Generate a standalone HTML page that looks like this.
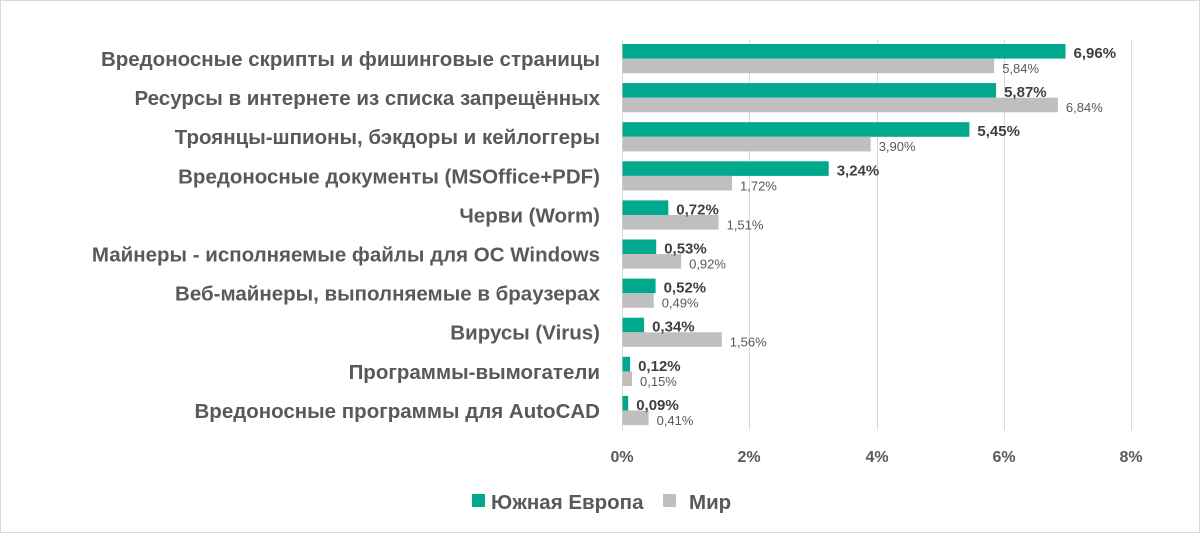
<!DOCTYPE html>
<html><head><meta charset="utf-8"><style>
html,body{margin:0;padding:0;background:#fff}
svg{display:block}
text{font-family:"Liberation Sans","DejaVu Sans",sans-serif;fill:#595959}
.c{font-size:20.5px;font-weight:bold;text-anchor:end}
.g{font-size:15px;font-weight:bold;fill:#404040}
.w{font-size:13px}
</style></head><body>
<svg width="1200" height="533" viewBox="0 0 1200 533" xmlns="http://www.w3.org/2000/svg">
<rect x="0.5" y="0.5" width="1199" height="532" fill="#fff" stroke="#d9d9d9"/>
<g stroke="#d9d9d9" stroke-width="1">
<line x1="622.5" y1="40" x2="622.5" y2="430"/>
<line x1="749.5" y1="40" x2="749.5" y2="430"/>
<line x1="877.5" y1="40" x2="877.5" y2="430"/>
<line x1="1004.5" y1="40" x2="1004.5" y2="430"/>
<line x1="1131.5" y1="40" x2="1131.5" y2="430"/>
</g>
<g fill="#00a88e">
<rect x="622.5" y="44" width="443.0" height="14.6"/>
<rect x="622.5" y="83.1" width="373.6" height="14.6"/>
<rect x="622.5" y="122.2" width="346.9" height="14.6"/>
<rect x="622.5" y="161.3" width="206.2" height="14.6"/>
<rect x="622.5" y="200.4" width="45.8" height="14.6"/>
<rect x="622.5" y="239.5" width="33.7" height="14.6"/>
<rect x="622.5" y="278.6" width="33.1" height="14.6"/>
<rect x="622.5" y="317.7" width="21.6" height="14.6"/>
<rect x="622.5" y="356.8" width="7.6" height="14.6"/>
<rect x="622.5" y="395.9" width="5.7" height="14.6"/>
</g>
<g fill="#bfbfbf">
<rect x="622.5" y="58.6" width="371.7" height="14.6"/>
<rect x="622.5" y="97.7" width="435.4" height="14.6"/>
<rect x="622.5" y="136.8" width="248.2" height="14.6"/>
<rect x="622.5" y="175.9" width="109.5" height="14.6"/>
<rect x="622.5" y="215.0" width="96.1" height="14.6"/>
<rect x="622.5" y="254.1" width="58.6" height="14.6"/>
<rect x="622.5" y="293.2" width="31.2" height="14.6"/>
<rect x="622.5" y="332.3" width="99.3" height="14.6"/>
<rect x="622.5" y="371.4" width="9.5" height="14.6"/>
<rect x="622.5" y="410.5" width="26.1" height="14.6"/>
</g>
<text class="c" x="600" y="66">Вредоносные скрипты и фишинговые страницы</text>
<text class="c" x="600" y="105.1">Ресурсы в интернете из списка запрещённых</text>
<text class="c" x="600" y="144.2">Троянцы-шпионы, бэкдоры и кейлоггеры</text>
<text class="c" x="600" y="183.3">Вредоносные документы (MSOffice+PDF)</text>
<text class="c" x="600" y="222.4">Черви (Worm)</text>
<text class="c" x="600" y="261.5">Майнеры - исполняемые файлы для ОС Windows</text>
<text class="c" x="600" y="300.6">Веб-майнеры, выполняемые в браузерах</text>
<text class="c" x="600" y="339.7">Вирусы (Virus)</text>
<text class="c" x="600" y="378.8">Программы-вымогатели</text>
<text class="c" x="600" y="417.9">Вредоносные программы для AutoCAD</text>
<text class="g" x="1073.5" y="58">6,96%</text>
<text class="g" x="1004.1" y="97.1">5,87%</text>
<text class="g" x="977.4" y="136.2">5,45%</text>
<text class="g" x="836.7" y="175.3">3,24%</text>
<text class="g" x="676.3" y="214.4">0,72%</text>
<text class="g" x="664.2" y="253.5">0,53%</text>
<text class="g" x="663.6" y="292.6">0,52%</text>
<text class="g" x="652.1" y="331.7">0,34%</text>
<text class="g" x="638.1" y="370.8">0,12%</text>
<text class="g" x="636.2" y="409.9">0,09%</text>
<text class="w" x="1002.2" y="73">5,84%</text>
<text class="w" x="1065.9" y="112.1">6,84%</text>
<text class="w" x="878.7" y="151.2">3,90%</text>
<text class="w" x="740.0" y="190.3">1,72%</text>
<text class="w" x="726.6" y="229.4">1,51%</text>
<text class="w" x="689.1" y="268.5">0,92%</text>
<text class="w" x="661.7" y="307.6">0,49%</text>
<text class="w" x="729.8" y="346.7">1,56%</text>
<text class="w" x="640.0" y="385.8">0,15%</text>
<text class="w" x="656.6" y="424.9">0,41%</text>
<g font-size="16" font-weight="bold" text-anchor="middle">
<text x="622" y="462">0%</text><text x="749" y="462">2%</text><text x="877" y="462">4%</text><text x="1004" y="462">6%</text><text x="1131" y="462">8%</text>
</g>
<rect x="472" y="494" width="13" height="13" fill="#00a88e"/>
<text x="491" y="509" font-size="20.5" font-weight="bold">Южная Европа</text>
<rect x="663" y="494" width="13" height="13" fill="#bfbfbf"/>
<text x="689" y="509" font-size="20.5" font-weight="bold">Мир</text>
</svg>
</body></html>
